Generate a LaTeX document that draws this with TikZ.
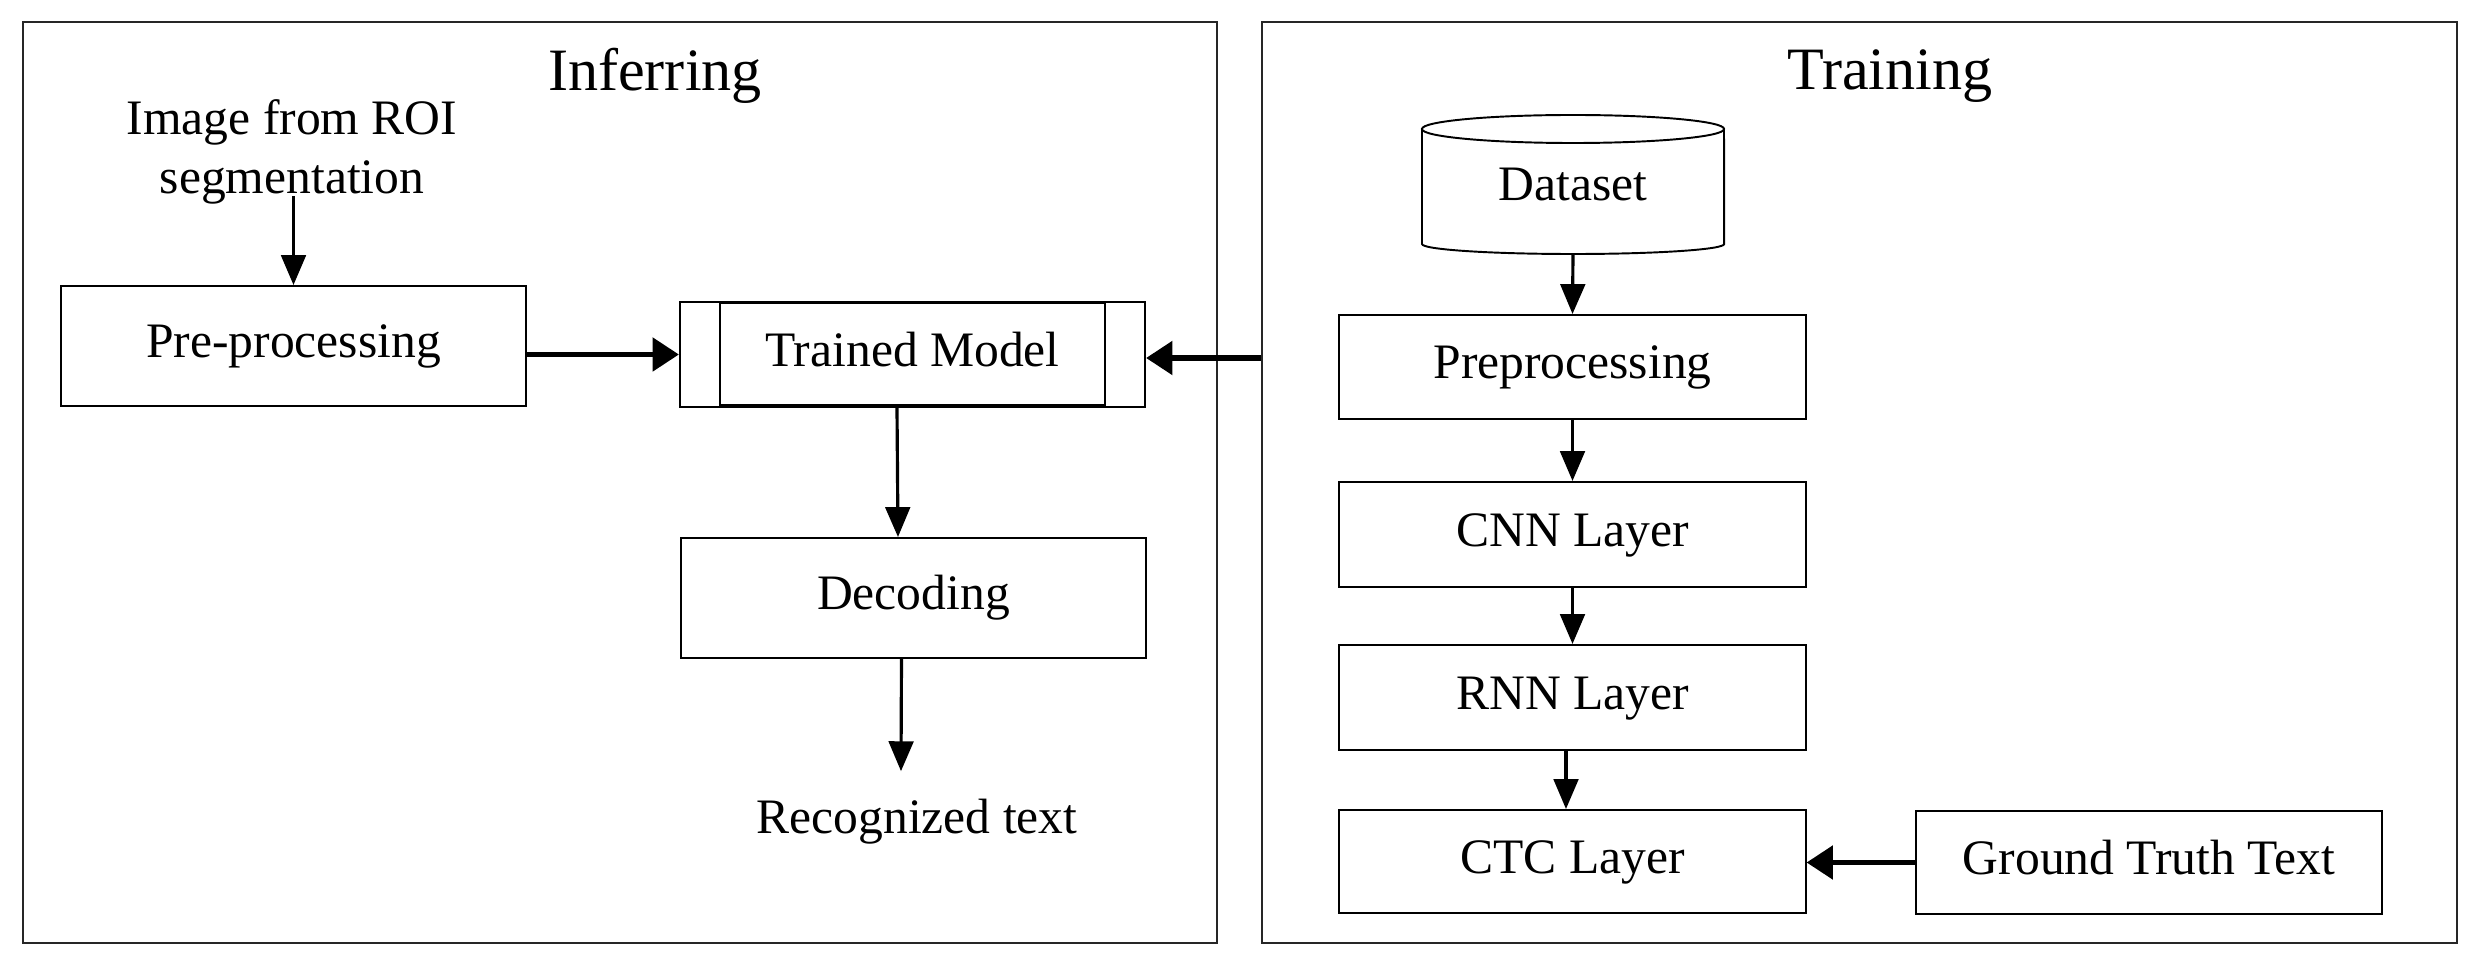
\documentclass[tikz,border=0pt]{standalone}
\usepackage{fontspec}
\setmainfont{Liberation Serif}
\usetikzlibrary{arrows.meta}
\tikzset{
  frame/.style={draw=black!85, line width=0.6pt, inner sep=0pt},
  box/.style={draw=black, line width=0.55pt, inner sep=0pt, font=\fontsize{14.1pt}{16.8pt}\selectfont,
              text height=0.66em, text depth=0pt, minimum width=4.66cm},
  lbl/.style={inner sep=0pt, font=\fontsize{14.1pt}{16.8pt}\selectfont},
  title/.style={inner sep=0pt, font=\fontsize{17.1pt}{20pt}\selectfont, anchor=base},
  varrow/.style={line width=0.9pt, -{Triangle[length=8.5pt, width=7pt]}},
  harrow/.style={line width=1.5pt, -{Triangle[length=7.5pt, width=9.4pt]}}
}
\begin{document}
\begin{tikzpicture}[x=0.01cm, y=-0.01cm]
\useasboundingbox (0,0) rectangle (2478,967);
% frames
\node[frame, minimum width=11.94cm, minimum height=9.21cm] (inf) at (620,482.5) {};
\node[frame, minimum width=11.95cm, minimum height=9.21cm] (train) at (1859.5,482.5) {};
\node[title] (tinf) at (655,91) {Inferring};
\node[title] (ttrain) at (1890,90) {Training};
% inferring side
\node[lbl, align=center, anchor=north] (img) at (292,99) {Image from ROI\\segmentation};
\node[box, minimum width=4.65cm, minimum height=1.2cm] (pre) at (293.5,346) {Pre-processing};
\node[box, minimum width=4.65cm, minimum height=1.05cm] (tm) at (912.5,354.5) {Trained Model};
\draw[line width=0.55pt] ([shift={(0.41cm,-0.02cm)}]tm.north west) rectangle ([shift={(-0.41cm,0.03cm)}]tm.south east);
\node[box, minimum width=4.65cm, minimum height=1.2cm] (dec) at (913.5,598) {Decoding};
\node[lbl, text height=0.66em, text depth=0pt, inner ysep=0.38cm] (rec) at (917,821.5) {Recognized text};
\draw[varrow] ([yshift=0.09cm]img.south -| pre.north) -- (pre.north);
\draw[harrow] (pre.east |- tm.west) -- (tm.west);
\draw[varrow] ([xshift=-0.155cm]tm.south) -- ([xshift=-0.155cm]dec.north);
\draw[varrow] ([xshift=-0.12cm]dec.south) -- ([xshift=-0.16cm]rec.north);
% training side
\node[lbl] (ds) at (1573,185) {Dataset};
\draw[line width=0.55pt] (1422,129) -- (1422,244) arc[start angle=180, end angle=360, x radius=1.51cm, y radius=0.10cm] -- (1724,129);
\draw[line width=0.55pt] (1573,129) ellipse[x radius=1.51cm, y radius=0.14cm];
\coordinate (dsb) at (1573,254);
\node[box, minimum height=1.04cm] (pre2) at (1572.5,367) {Preprocessing};
\node[box, minimum height=1.05cm] (cnn) at (1572.5,534.5) {CNN Layer};
\node[box, minimum height=1.05cm] (rnn) at (1572.5,697.5) {RNN Layer};
\node[box, minimum height=1.03cm] (ctc) at (1572.5,861.5) {CTC Layer};
\node[box, minimum height=1.03cm] (gt) at (2149,862.5) {Ground Truth Text};
\draw[varrow] (dsb) -- (pre2.north);
\draw[varrow] (pre2.south) -- (cnn.north);
\draw[varrow] (cnn.south) -- (rnn.north);
\draw[varrow] ([xshift=-0.065cm]rnn.south) -- ([xshift=-0.065cm]ctc.north);
\draw[harrow] (gt.west) -- (gt.west -| ctc.east);
\draw[harrow] ([yshift=-0.035cm]train.west |- tm.east) -- ([yshift=-0.035cm]tm.east);
\end{tikzpicture}
\end{document}
